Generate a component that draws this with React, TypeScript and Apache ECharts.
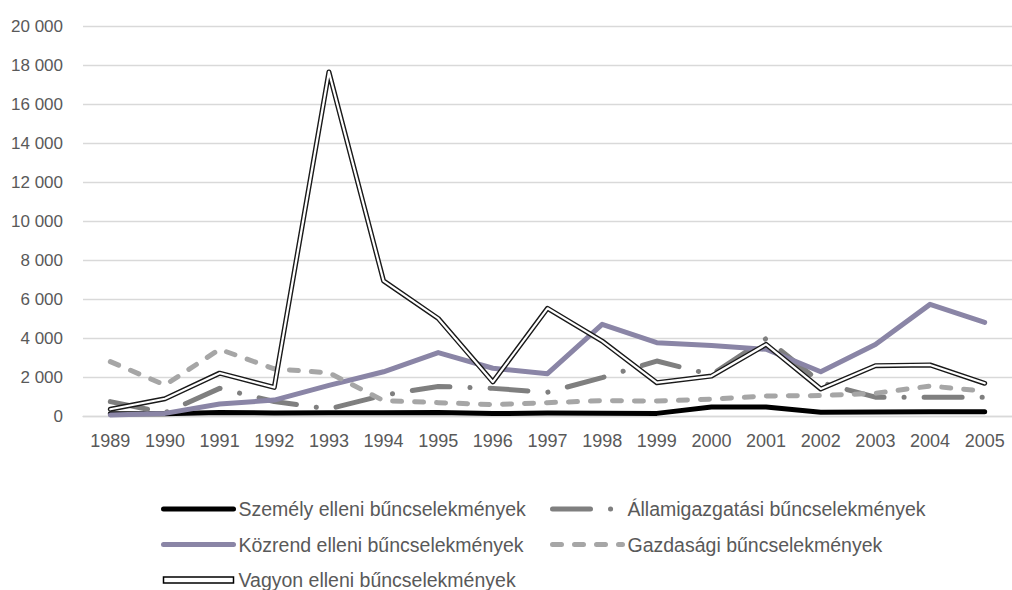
import React, { useEffect, useRef } from "react";
import * as echarts from "echarts";

const years = ["1989","1990","1991","1992","1993","1994","1995","1996","1997","1998","1999","2000","2001","2002","2003","2004","2005"];
const szemely = [150,150,220,190,200,200,220,160,190,180,170,500,500,230,240,250,250];
const allamigazgatasi = [770,200,1450,780,400,1100,1550,1450,1250,2000,2850,2150,4000,1750,1000,1000,1000];
const kozrend = [90,170,650,850,1600,2300,3280,2480,2200,4730,3790,3640,3450,2300,3700,5750,4830];
const gazdasagi = [2820,1620,3450,2450,2250,820,720,620,720,820,800,900,1060,1080,1200,1570,1310];
const vagyon = [380,920,2230,1500,17650,6950,5030,1780,5550,3870,1740,2080,3700,1420,2610,2650,1710];
const yTicks = { min: 0, max: 20000, interval: 2000 };

const names = {
  sz: "Személy elleni bűncselekmények",
  al: "Államigazgatási bűncselekmények",
  ko: "Közrend elleni bűncselekmények",
  ga: "Gazdasági bűncselekmények",
  va: "Vagyon elleni bűncselekmények",
};

const FONT = "'Liberation Sans', Arial, sans-serif";

export default function App() {
  const ref = useRef<HTMLDivElement>(null);
  useEffect(() => {
    if (!ref.current) return;
    const chart = echarts.init(ref.current, undefined, { renderer: "svg" });
    const fmt = (v: number) => String(v).replace(/\B(?=(\d{3})+(?!\d))/g, " ");
    const legendText = { fontFamily: FONT, fontSize: 19.5, color: "#595959", lineHeight: 20 };
    const legendCommon = {
      orient: "vertical",
      top: 494,
      height: 130,
      itemWidth: 70,
      itemHeight: 20,
      itemGap: 15.5,
      textStyle: legendText,
      itemStyle: { opacity: 0 },
      lineStyle: { width: 5, cap: "round" },
    };
    chart.setOption({
      animation: false,
      backgroundColor: "#fff",
      grid: { left: 83, right: -2, top: 26, bottom: 173.3, containLabel: false },
      xAxis: {
        type: "category",
        data: years,
        boundaryGap: true,
        axisLine: { lineStyle: { color: "#d9d9d9", width: 1.3 } },
        axisTick: { show: false },
        axisLabel: { fontFamily: FONT, fontSize: 18, color: "#595959", margin: 15, interval: 0 },
      },
      yAxis: {
        type: "value",
        min: yTicks.min,
        max: yTicks.max,
        interval: yTicks.interval,
        axisLine: { show: false },
        axisTick: { show: false },
        splitLine: { lineStyle: { color: "#d9d9d9", width: 1.3 } },
        axisLabel: { fontFamily: FONT, fontSize: 17, color: "#595959", margin: 20, formatter: fmt },
      },
      legend: [
        {
          ...legendCommon,
          left: 156,
          data: [
            names.sz,
            names.ko,
            {
              name: names.va,
              icon: "path://M0,0H70V6H0Z",
              itemStyle: { opacity: 1, color: "#ffffff", borderColor: "#000000", borderWidth: 1.5 },
            },
          ],
        },
        {
          ...legendCommon,
          left: 545,
          data: [names.al, names.ga],
        },
      ],
      series: [
        {
          name: names.sz, type: "line", data: szemely, symbol: "none", z: 2,
          lineStyle: { color: "#000000", width: 5, join: "round", cap: "round" },
          itemStyle: { color: "#000000" },
        },
        {
          name: names.al, type: "line", data: allamigazgatasi, symbol: "none", z: 3,
          lineStyle: { color: "#7f7f7f", width: 5, type: [38, 20, 0.1, 20], join: "round", cap: "round" },
          itemStyle: { color: "#7f7f7f" },
        },
        {
          name: names.ko, type: "line", data: kozrend, symbol: "none", z: 4,
          lineStyle: { color: "#8a85a6", width: 5, join: "round", cap: "round" },
          itemStyle: { color: "#8a85a6" },
        },
        {
          name: names.ga, type: "line", data: gazdasagi, symbol: "none", z: 5,
          lineStyle: { color: "#a6a6a6", width: 5, type: [9, 13], join: "round", cap: "round" },
          itemStyle: { color: "#a6a6a6" },
        },
        {
          name: names.va, type: "line", data: vagyon, symbol: "none", z: 6,
          lineStyle: { color: "#1a1a1a", width: 5, join: "round", cap: "round" },
          itemStyle: { color: "#1a1a1a" },
        },
        {
          name: "vagyon_inner", type: "line", data: vagyon, symbol: "none", z: 7,
          lineStyle: { color: "#ffffff", width: 2.2, join: "round", cap: "round" },
          itemStyle: { color: "#ffffff" },
        },
      ],
    });
    return () => chart.dispose();
  }, []);
  return <div ref={ref} style={{ position: "absolute", left: 0, top: 0, width: 1012, height: 590 }} />;
}
